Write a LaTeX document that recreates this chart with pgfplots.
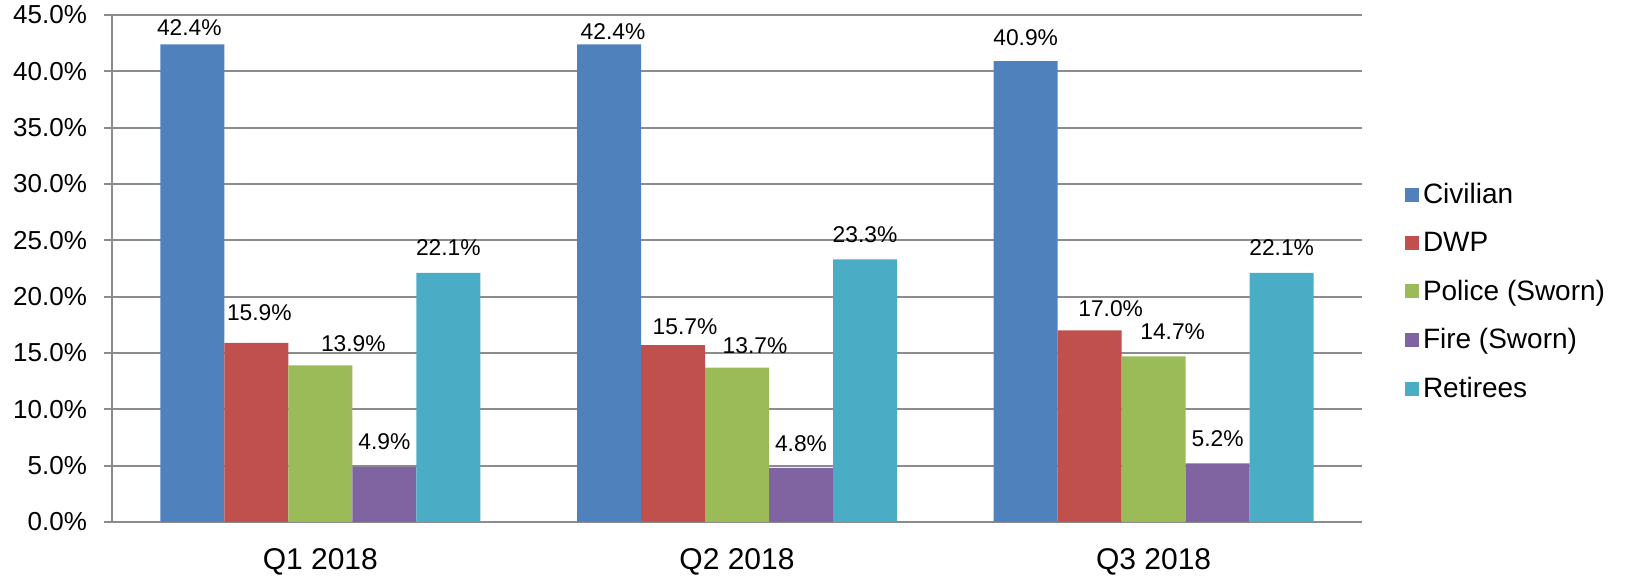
\documentclass[border=0pt]{standalone}
\usepackage{fontspec}
\setmainfont{Liberation Sans}
\usepackage{pgfplots}
\usepackage{pgfplotstable}
\pgfplotsset{compat=1.18}
\definecolor{cCiv}{HTML}{4F81BD}
\definecolor{cDWP}{HTML}{C0504D}
\definecolor{cPol}{HTML}{9BBB59}
\definecolor{cFire}{HTML}{8064A2}
\definecolor{cRet}{HTML}{4BACC6}
\definecolor{gridgray}{RGB}{140,140,140}
% x = category, y = value (%), dx/dy = label offsets (pt)
\pgfplotstableread{
x y dx dy
0 42.4 -1.5 4.5
1 42.4 2 2.25
2 40.9 0 8
}\civ
\pgfplotstableread{
x y dx dy
0 15.9 1.5 11
1 15.7 6 5.5
2 17.0 10.5 7
}\dwp
\pgfplotstableread{
x y dx dy
0 13.9 16.5 7
1 13.7 9 7
2 14.7 9.5 8.5
}\pol
\pgfplotstableread{
x y dx dy
0 4.9 0 8.5
1 4.8 0 8
2 5.2 0 8.5
}\fire
\pgfplotstableread{
x y dx dy
0 22.1 0 8.5
1 23.3 0 8.5
2 22.1 0 8.5
}\ret
\pgfplotsset{
  lbl/.style={
    nodes near coords={\pgfmathprintnumber[fixed,fixed zerofill,precision=1]{\pgfplotspointmeta}\%},
    visualization depends on={\thisrow{dx}\as\lbldx},
    visualization depends on={\thisrow{dy}\as\lbldy},
    every node near coord/.append style={anchor=base, xshift=\lbldx pt, yshift=\lbldy pt,
      font=\fontsize{11.4}{13}\selectfont, text=black},
  },
}
\begin{document}
\begin{tikzpicture}[x=1pt,y=1pt]
\useasboundingbox (0,0) rectangle (817.5,288);
\begin{axis}[
  at={(56pt,27pt)}, anchor=south west, scale only axis,
  width=625pt, height=253.5pt,
  ybar=0pt, bar width=32pt,
  xmin=-0.5, xmax=2.5, ymin=0, ymax=45,
  axis x line*=bottom, axis y line*=left,
  axis line style={draw=gridgray, line width=1pt, -},
  ytick={0,5,...,45},
  ymajorgrids, grid style={gridgray, line width=1pt},
  tick align=outside,
  major tick length=4pt, minor tick length=5pt,
  xtick={0,1,2}, xticklabels={Q1 2018,Q2 2018,Q3 2018},
  xtick style={draw=none},
  minor xtick={-0.5,0.5,1.5,2.5},
  minor tick style={draw=gridgray, line width=1pt},
  ytick style={draw=gridgray, line width=1pt},
  /pgf/number format/assume math mode=true,
  yticklabel={\pgfmathprintnumber[fixed,fixed zerofill,precision=1]{\tick}\%},
  yticklabel style={font=\fontsize{13}{15}\selectfont, text=black, xshift=-5pt},
  xticklabel style={font=\fontsize{15}{17}\selectfont, text=black, yshift=-5.5pt},
  legend image code/.code={\fill[#1] (0pt,-3.5pt) rectangle (7pt,3.5pt);},
  legend style={draw=none, fill=none, at={(1,0.5)}, anchor=west, xshift=21.5pt, yshift=-11.75pt,
    font=\fontsize{14}{16}\selectfont, inner sep=0pt, outer sep=0pt, row sep=8.75pt},
  legend cell align=left,
  clip=false,
]
\addplot[fill=cCiv, draw=none, lbl] table[x=x,y=y]{\civ};
\addplot[fill=cDWP, draw=none, lbl] table[x=x,y=y]{\dwp};
\addplot[fill=cPol, draw=none, lbl] table[x=x,y=y]{\pol};
\addplot[fill=cFire, draw=none, lbl] table[x=x,y=y]{\fire};
\addplot[fill=cRet, draw=none, lbl] table[x=x,y=y]{\ret};
\legend{Civilian,DWP,Police (Sworn),Fire (Sworn),Retirees}
\end{axis}
\end{tikzpicture}
\end{document}
